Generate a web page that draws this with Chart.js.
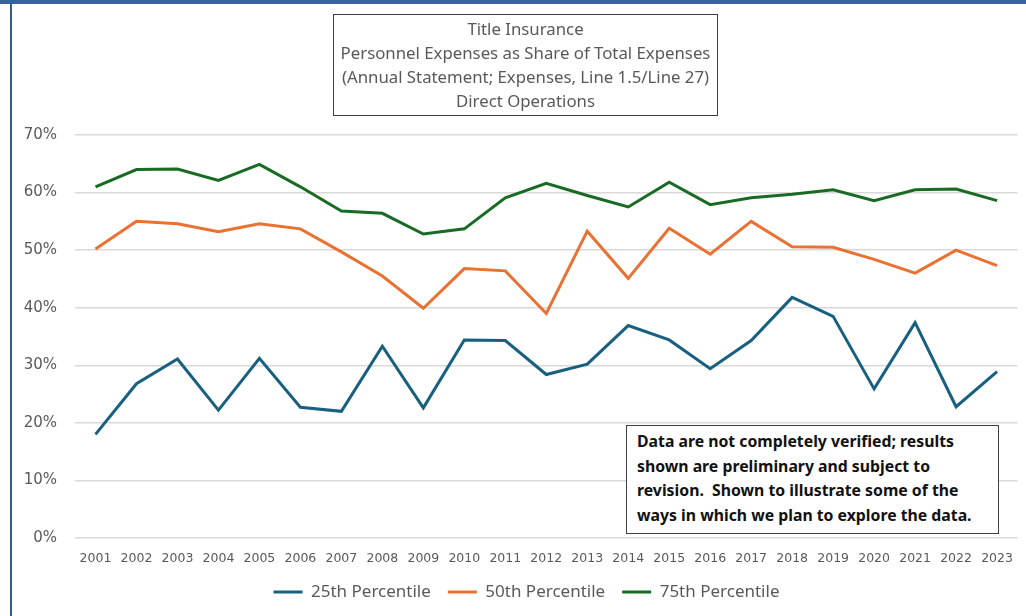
<!DOCTYPE html>
<html>
<head>
<meta charset="utf-8">
<script src="https://cdn.jsdelivr.net/npm/chart.js@4.4.1/dist/chart.umd.min.js"></script>
<style>
  html, body { margin: 0; padding: 0; background: #fff; }
  #wrap { position: relative; width: 1026px; height: 616px; overflow: hidden; }
  #topbar { position: absolute; left: 0; top: 0; width: 1026px; height: 4px; background: #3564a0; }
  #leftbar { position: absolute; left: 10px; top: 4px; width: 2px; height: 612px; background: #2f5f8e; }
  #cps { position: absolute; left: 0; top: 0; }
  .titlebox {
    position: absolute; left: 333px; top: 14px; width: 385px; height: 102px;
    border: 1.5px solid #404040; box-sizing: border-box;
    font-family: "Noto Sans", sans-serif; font-size: 16.8px; color: #595959;
    text-align: center; line-height: 24px; padding-top: 2px; white-space: nowrap;
  }
  .note {
    position: absolute; left: 626px; top: 425px; width: 373px; height: 109px;
    border: 1.5px solid #404040; box-sizing: border-box; background: #fff;
    font-family: "Noto Sans", sans-serif; font-weight: bold; font-size: 15.8px; color: #111;
    line-height: 24.6px; padding: 3px 0 0 10px; white-space: nowrap;
  }
</style>
</head>
<body>
<div id="wrap">
  <canvas id="cps" width="1026" height="616"></canvas>
  <div id="topbar"></div>
  <div id="leftbar"></div>
  <div class="titlebox">Title Insurance<br>Personnel Expenses as Share of Total Expenses<br>(Annual Statement; Expenses, Line 1.5/Line 27)<br>Direct Operations</div>
  <div class="note">Data are not completely verified; results<br>shown are preliminary and subject to<br>revision.&nbsp; Shown to illustrate some of the<br>ways in which we plan to explore the data.</div>
</div>
<script>
const years = ['2001', '2002', '2003', '2004', '2005', '2006', '2007', '2008', '2009', '2010', '2011', '2012',
    '2013', '2014', '2015', '2016', '2017', '2018', '2019', '2020', '2021', '2022', '2023'];

const p25 = [18.0, 26.8, 31.1, 22.2, 31.2, 22.7, 22.0, 33.3, 22.6, 34.4, 34.3, 28.4,
    30.2, 36.9, 34.4, 29.4, 34.3, 41.8, 38.5, 25.9, 37.4, 22.8, 28.9];
const p50 = [50.2, 55.0, 54.6, 53.2, 54.6, 53.7, 49.7, 45.5, 39.9, 46.8, 46.4, 39.0,
    53.3, 45.1, 53.8, 49.3, 55.0, 50.6, 50.5, 48.4, 46.0, 50.0, 47.3];
const p75 = [61.0, 64.0, 64.1, 62.1, 64.9, 61.0, 56.8, 56.4, 52.8, 53.7, 59.1, 61.6,
    59.5, 57.5, 61.8, 57.9, 59.1, 59.7, 60.5, 58.6, 60.5, 60.6, 58.6];

const yTicks = [0, 10, 20, 30, 40, 50, 60, 70];

function series(label, data, color) {
    return {
        label: label,
        data: data,
        borderColor: color,
        backgroundColor: color,
        borderWidth: 3,
        pointRadius: 0,
        tension: 0,
        fill: false
    };
}

const graphHTML = document.getElementById('cps');
const chart = new Chart(graphHTML, {
    type: 'line',
    data: {
        labels: years,
        datasets: [
            series('25th Percentile', p25, '#17607f'),
            series('50th Percentile', p50, '#e97132'),
            series('75th Percentile', p75, '#196b24')
        ]
    },
    options: {
        responsive: false,
        animation: false,
        layout: { padding: { top: 135, right: 2, left: 29, bottom: 5.5 } },
        plugins: {
            title: { display: false },
            tooltip: { enabled: false },
            legend: {
                position: 'bottom',
                labels: {
                    usePointStyle: true,
                    pointStyle: 'line',
                    pointStyleWidth: 29,
                    padding: 17,
                    color: '#595959',
                    font: { family: 'Noto Sans', size: 17 }
                }
            }
        },
        scales: {
            x: {
                offset: true,
                grid: { display: false, drawTicks: false },
                border: { display: false },
                ticks: {
                    color: '#595959',
                    font: { family: 'DejaVu Sans', size: 12.5 },
                    maxRotation: 0,
                    autoSkip: false,
                    padding: 13
                },
                afterFit: (scale) => { scale.height = 28.5; }
            },
            y: {
                min: 0,
                max: 70,
                afterBuildTicks: (scale) => { scale.ticks = yTicks.map(v => ({ value: v })); },
                grid: { color: '#d9d9d9', lineWidth: 1.5, drawTicks: false },
                border: { display: false },
                ticks: {
                    color: '#595959',
                    font: { family: 'DejaVu Sans', size: 15 },
                    padding: 18,
                    callback: (v) => v + '%'
                },
                afterFit: (scale) => {
                    scale.width = 46;
                    // labels reach left of the axis box, so don't clip them to it
                    scale._computeLabelArea = () => null;
                }
            }
        }
    }
});
</script>
</body>
</html>
